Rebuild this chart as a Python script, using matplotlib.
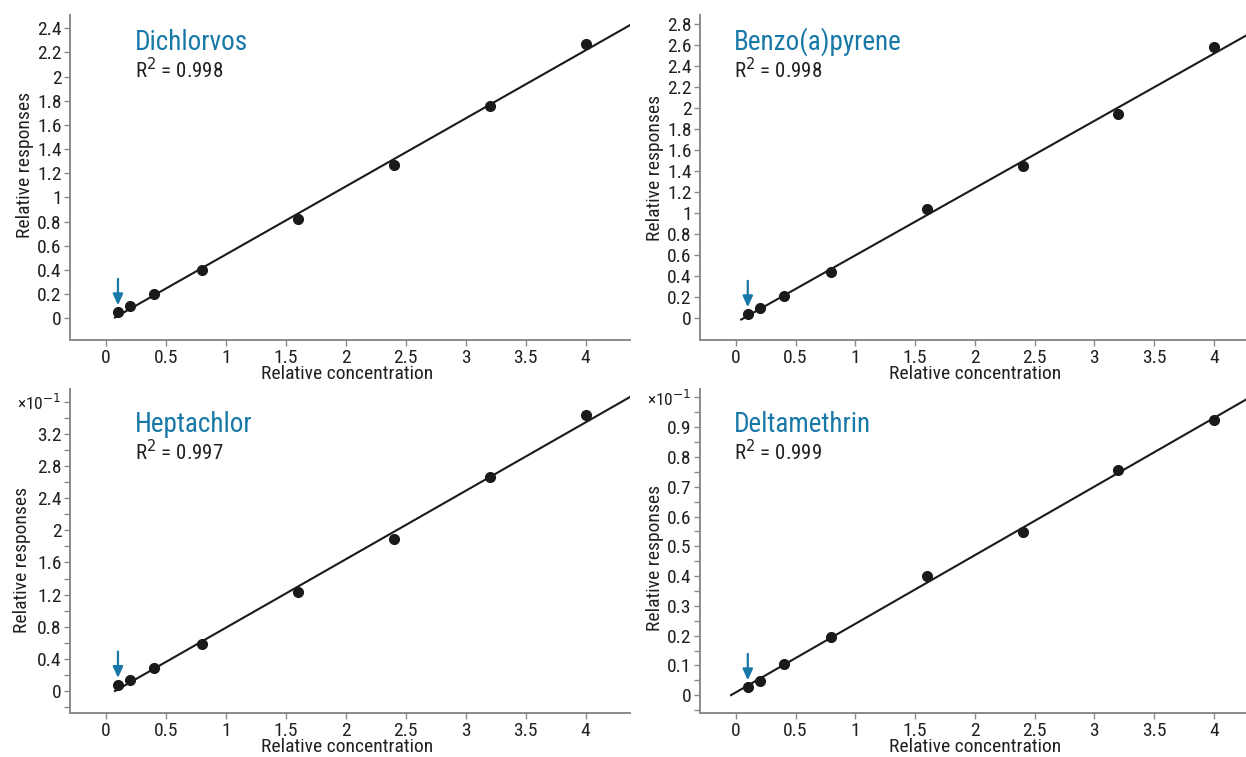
import numpy as np
import matplotlib
matplotlib.use("Agg")
import matplotlib.pyplot as plt
from matplotlib import font_manager
from matplotlib.ticker import FixedLocator, FuncFormatter

# ---------------- data ----------------
concentration = [0.1, 0.2, 0.4, 0.8, 1.6, 2.4, 3.2, 4.0]

compounds = ["Dichlorvos", "Benzo(a)pyrene", "Heptachlor", "Deltamethrin"]
r2_values = ["0.998", "0.998", "0.997", "0.999"]

dichlorvos_resp = [0.05, 0.10, 0.20, 0.40, 0.82, 1.27, 1.76, 2.27]
benzo_resp = [0.04, 0.10, 0.21, 0.44, 1.04, 1.45, 1.94, 2.58]
heptachlor_resp = [0.075, 0.14, 0.29, 0.59, 1.23, 1.89, 2.66, 3.43]      # x10^-1
deltamethrin_resp = [0.027, 0.048, 0.105, 0.195, 0.40, 0.548, 0.755, 0.923]  # x10^-1
responses = [dichlorvos_resp, benzo_resp, heptachlor_resp, deltamethrin_resp]

fit_start = [0.075, 0.045, 0.075, -0.04]

x_ticks = [0, 0.5, 1, 1.5, 2, 2.5, 3, 3.5, 4]
y_ticks_tl = [0, 0.2, 0.4, 0.6, 0.8, 1, 1.2, 1.4, 1.6, 1.8, 2, 2.2, 2.4]
y_ticks_tr = [0, 0.2, 0.4, 0.6, 0.8, 1, 1.2, 1.4, 1.6, 1.8, 2, 2.2, 2.4, 2.6, 2.8]
y_ticks_bl = [0, 0.4, 0.8, 1.2, 1.6, 2, 2.4, 2.8, 3.2, 3.6]
y_minor_bl = [-0.2, 0.2, 0.6, 1.0, 1.4, 1.8, 2.2, 2.6, 3.0, 3.4]
y_ticks_br = [0, 0.1, 0.2, 0.3, 0.4, 0.5, 0.6, 0.7, 0.8, 0.9, 1.0]
y_minor_br = [-0.05, 0.05, 0.15, 0.25, 0.35, 0.45, 0.55, 0.65, 0.75, 0.85, 0.95]
y_ticks_all = [y_ticks_tl, y_ticks_tr, y_ticks_bl, y_ticks_br]
y_minor_all = [[], [], y_minor_bl, y_minor_br]
scaled = [False, False, True, True]

# ---------------- style ----------------
names = {f.name for f in font_manager.fontManager.ttflist}
FONT, STRETCH = ["DejaVu Sans"], "condensed"
for cand in ["Roboto Condensed", "Liberation Sans Narrow", "Open Sans Condensed",
             "Noto Sans Condensed", "Lato Condensed"]:
    if cand in names:
        FONT, STRETCH = [cand, "DejaVu Sans"], "normal"
        break
plt.rcParams["font.family"] = FONT
plt.rcParams["font.stretch"] = STRETCH

BLUE = "#1878a8"
TXT = "#231f20"
SPINE = "#8a8a8a"

W, H = 1246, 757
fig = plt.figure(figsize=(W / 100, H / 100), dpi=100)

rects = [
    (70, 15, 630, 340),
    (700, 15, 1246, 340),
    (70, 389, 630, 713),
    (700, 389, 1246, 713),
]
xlims = [(-0.30, 4.37), (-0.30, 4.27), (-0.30, 4.37), (-0.30, 4.27)]
ylims = [(-0.18, 2.51), (-0.206, 2.886), (-0.275, 3.76), (-0.0595, 1.028)]
title_px = [(135, 42), (734, 42), (135, 425), (734, 425)]
r2_px = [(135, 70), (734, 70), (135, 452), (734, 452)]
xlabel_px = [(347, 374), (975, 374), (347, 747), (975, 747)]
ylabel_px = [(25, 165), (655, 168), (22, 560), (655, 558)]

for i in range(4):
    x0, y0, x1, y1 = rects[i]
    ax = fig.add_axes([x0 / W, 1 - y1 / H, (x1 - x0) / W, (y1 - y0) / H])
    ax.set_xlim(*xlims[i])
    ax.set_ylim(*ylims[i])
    for s in ["top", "right"]:
        ax.spines[s].set_visible(False)
    for s in ["left", "bottom"]:
        ax.spines[s].set_color(SPINE)
        ax.spines[s].set_linewidth(1.4)
    ax.patch.set_alpha(0)

    y = np.array(responses[i])
    x = np.array(concentration)
    slope, intercept = np.polyfit(x, y, 1)
    xf = np.array([fit_start[i], xlims[i][1]])
    ax.plot(xf, slope * xf + intercept, color="#1a1a1a", lw=1.5, zorder=2)
    ax.plot(x, y, "o", color="#1a1a1a", ms=7, zorder=3)

    ax.annotate("", xy=(x[0], y[0]), xytext=(0, 24), textcoords="offset points",
                arrowprops=dict(arrowstyle="-|>,head_length=0.55,head_width=0.25",
                                color=BLUE, lw=1.6, shrinkA=0, shrinkB=5,
                                mutation_scale=12))

    ax.xaxis.set_major_locator(FixedLocator(x_ticks))
    ax.xaxis.set_major_formatter(FuncFormatter(lambda v, p: "%g" % v))
    ax.yaxis.set_major_locator(FixedLocator(y_ticks_all[i]))
    top_tick = y_ticks_all[i][-1]
    if scaled[i]:
        ax.yaxis.set_major_formatter(FuncFormatter(
            lambda v, p, t=top_tick: "\u00d710$^{-1}$" if abs(v - t) < 1e-9 else "%g" % v))
        ax.yaxis.set_minor_locator(FixedLocator(y_minor_all[i]))
    else:
        ax.yaxis.set_major_formatter(FuncFormatter(lambda v, p: "%g" % v))
    ax.tick_params(axis="both", which="both", direction="out", length=4.5,
                   width=1.0, color=SPINE, labelsize=14, labelcolor=TXT, pad=1.5)
    ax.tick_params(axis="x", pad=2)
    if scaled[i]:
        lbls = ax.get_yticklabels()
        lbls[-1].set_fontsize(12.5)

    tx, ty = title_px[i]
    fig.text(tx / W, 1 - ty / H, compounds[i], color=BLUE, fontsize=19.5,
             ha="left", va="center")
    rx, ry = r2_px[i]
    fig.text(rx / W, 1 - ry / H, r"R$^2$ = " + r2_values[i], color=TXT,
             fontsize=15, ha="left", va="center")
    lx, ly = xlabel_px[i]
    fig.text(lx / W, 1 - ly / H, "Relative concentration", color=TXT,
             fontsize=14, ha="center", va="center")
    yx, yy = ylabel_px[i]
    fig.text(yx / W, 1 - yy / H, "Relative responses", color=TXT,
             fontsize=14, ha="center", va="center", rotation=90)

fig.savefig("out.png", dpi=100)
